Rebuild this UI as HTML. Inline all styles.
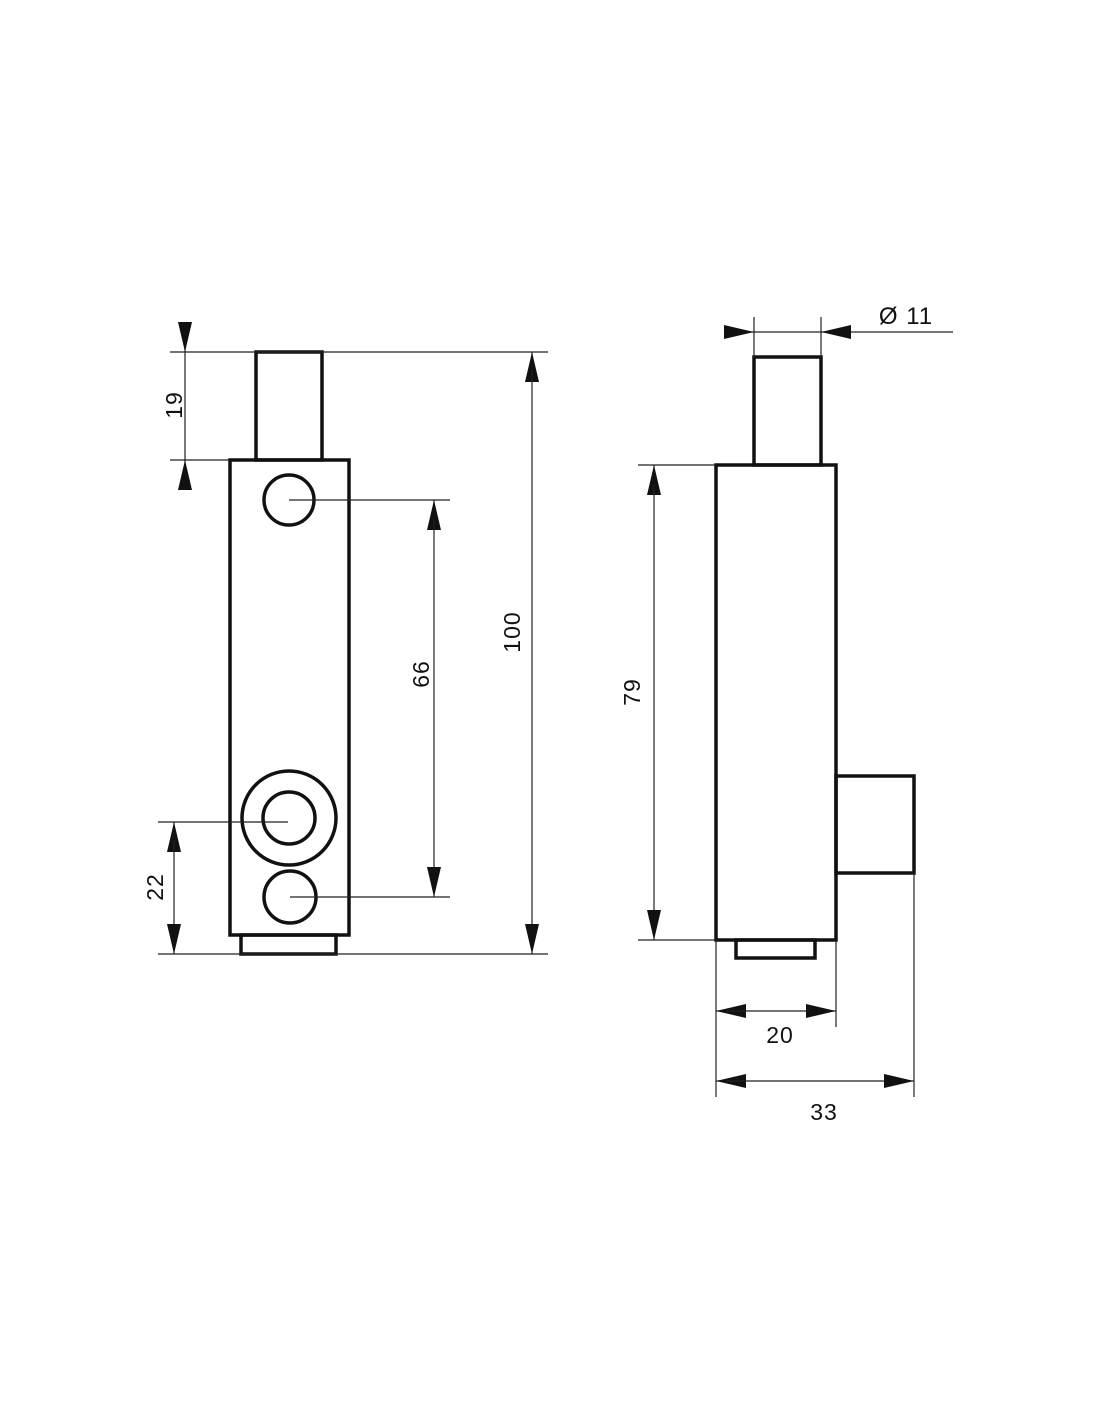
<!DOCTYPE html>
<html><head><meta charset="utf-8"><style>
html,body{margin:0;padding:0;background:#fff;}
svg{display:block;}
text{font-family:"Liberation Sans",sans-serif;font-size:23px;fill:#111;letter-spacing:1px;}
</style></head><body>
<svg width="1100" height="1422" viewBox="0 0 1100 1422" xmlns="http://www.w3.org/2000/svg">
<defs>
<marker id="a" viewBox="0 0 30 14" refX="30" refY="7" markerWidth="30" markerHeight="14" markerUnits="userSpaceOnUse" orient="auto">
<path d="M0,0 L30,7 L0,14 z" fill="#111"/>
</marker>
</defs>
<g fill="none" stroke="#111" stroke-width="3.5">
<rect x="256" y="352" width="66" height="108"/>
<rect x="230" y="460" width="119" height="475"/>
<rect x="241" y="935" width="95" height="19"/>
<circle cx="289" cy="500" r="25"/>
<circle cx="289" cy="818" r="47"/>
<circle cx="289" cy="818" r="26"/>
<circle cx="290" cy="897" r="26"/>
<rect x="754" y="357" width="67" height="108"/>
<rect x="716" y="465" width="120" height="475"/>
<rect x="836" y="776" width="78" height="97"/>
<rect x="736" y="940" width="79" height="18"/>
</g>
<g fill="none" stroke="#222" stroke-width="1.2">
<line x1="170" y1="352" x2="548" y2="352"/>
<line x1="170" y1="460" x2="229" y2="460"/>
<line x1="158" y1="954" x2="548" y2="954"/>
<line x1="289" y1="500" x2="450" y2="500"/>
<line x1="290" y1="897" x2="450" y2="897"/>
<line x1="158" y1="822" x2="288" y2="822"/>
<line x1="185" y1="352" x2="185" y2="460"/>
<line x1="185" y1="322" x2="185" y2="352" marker-end="url(#a)"/>
<line x1="185" y1="490" x2="185" y2="460" marker-end="url(#a)"/>
<line x1="532" y1="380" x2="532" y2="352" marker-end="url(#a)"/>
<line x1="532" y1="370" x2="532" y2="954" marker-end="url(#a)"/>
<line x1="434" y1="530" x2="434" y2="500" marker-end="url(#a)"/>
<line x1="434" y1="520" x2="434" y2="897" marker-end="url(#a)"/>
<line x1="174" y1="850" x2="174" y2="822" marker-end="url(#a)"/>
<line x1="174" y1="840" x2="174" y2="954" marker-end="url(#a)"/>
<line x1="754" y1="317" x2="754" y2="357"/>
<line x1="821" y1="317" x2="821" y2="357"/>
<line x1="728" y1="332" x2="754" y2="332" marker-end="url(#a)"/>
<line x1="754" y1="332" x2="821" y2="332"/>
<line x1="953" y1="332" x2="821" y2="332" marker-end="url(#a)"/>
<line x1="638" y1="465" x2="716" y2="465"/>
<line x1="638" y1="940" x2="716" y2="940"/>
<line x1="654" y1="495" x2="654" y2="465" marker-end="url(#a)"/>
<line x1="654" y1="485" x2="654" y2="940" marker-end="url(#a)"/>
<line x1="716" y1="940" x2="716" y2="1097"/>
<line x1="836" y1="940" x2="836" y2="1027"/>
<line x1="914" y1="873" x2="914" y2="1097"/>
<line x1="746" y1="1011" x2="716" y2="1011" marker-end="url(#a)"/>
<line x1="726" y1="1011" x2="836" y2="1011" marker-end="url(#a)"/>
<line x1="746" y1="1081" x2="716" y2="1081" marker-end="url(#a)"/>
<line x1="726" y1="1081" x2="914" y2="1081" marker-end="url(#a)"/>
</g>
<text transform="translate(182,405) rotate(-90)" text-anchor="middle">19</text>
<text transform="translate(429,674) rotate(-90)" text-anchor="middle">66</text>
<text transform="translate(520,632) rotate(-90)" text-anchor="middle">100</text>
<text transform="translate(163,887) rotate(-90)" text-anchor="middle">22</text>
<text transform="translate(640,692) rotate(-90)" text-anchor="middle">79</text>
<text x="906" y="324" text-anchor="middle" style="font-size:24px">Ø 11</text>
<text x="780" y="1043" text-anchor="middle">20</text>
<text x="824" y="1120" text-anchor="middle">33</text>
</svg>
</body></html>
